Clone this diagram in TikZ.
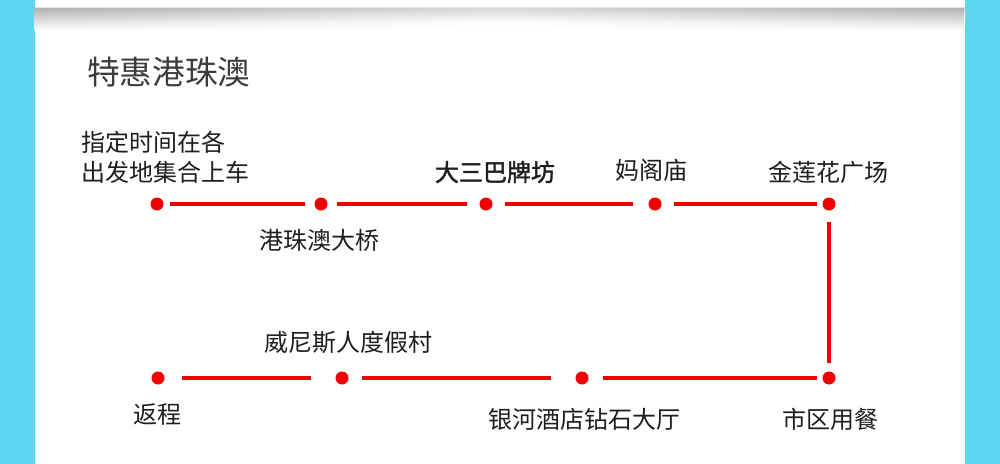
\documentclass[tikz,border=0pt]{standalone}
\usepackage{fontspec}
\newfontfamily\cjk{Noto Sans CJK SC}
\newfontfamily\cjkbold[FakeBold=1.6]{Noto Sans CJK SC}
\usetikzlibrary{shadings,fadings}
\definecolor{sidecyan}{RGB}{94,214,240}
\definecolor{routered}{RGB}{240,0,0}
\definecolor{titlegray}{RGB}{60,60,60}
\definecolor{labelgray}{RGB}{30,30,30}
\tikzfading[name=edgefade,left color=transparent!0,right color=transparent!0,middle color=transparent!100]
\tikzset{
  dot/.style={circle,fill=routered,draw=none,minimum size=9.75pt,inner sep=0pt},
  route/.style={draw=routered,line width=3.4pt,line cap=butt},
  stoplabel/.style={inner sep=0pt,text=labelgray,font=\cjk\fontsize{18}{22.5}\selectfont},
  titlelabel/.style={inner sep=0pt,text=titlegray,font=\cjk\fontsize{24.5}{28}\selectfont}
}
\begin{document}
\begin{tikzpicture}[x=0.75pt,y=-0.75pt]
\useasboundingbox (0,0) rectangle (1000,464);
% background
\fill[white] (0,0) rectangle (1000,464);
\fill[sidecyan] (0,0) rectangle (35,464);
\fill[sidecyan] (965,0) rectangle (1000,464);
\shade[top color=gray!30,bottom color=white] (35,8) rectangle (965,22);
\shade[top color=gray!60,bottom color=white,path fading=edgefade] (35,8) rectangle (965,30);
\draw[gray!25,line width=0.6pt] (35,7.5) -- (965,7.5);
% title
\node[titlelabel,anchor=west] (title) at (87,72) {特惠港珠澳};
% stops
\node[dot] (d1) at (157,204) {};
\node[dot] (d2) at (321,204) {};
\node[dot] (d3) at (486,204) {};
\node[dot] (d4) at (655,204) {};
\node[dot] (d5) at (829,204) {};
\node[dot] (d6) at (829,378) {};
\node[dot] (d7) at (582,378) {};
\node[dot] (d8) at (342,378) {};
\node[dot] (d9) at (158,378) {};
% route
\draw[route,shorten <=9.75pt,shorten >=12pt] (d1.center) -- (d2.center);
\draw[route,shorten <=12pt,shorten >=14.25pt] (d2.center) -- (d3.center);
\draw[route,shorten <=14.25pt,shorten >=16.5pt] (d3.center) -- (d4.center);
\draw[route,shorten <=14.25pt,shorten >=9pt] (d4.center) -- (d5.center);
\draw[route,shorten <=13.5pt,shorten >=11.25pt] (d5.center) -- (d6.center);
\draw[route,shorten <=9pt,shorten >=15.75pt] (d6.center) -- (d7.center);
\draw[route,shorten <=23.25pt,shorten >=15pt] (d7.center) -- (d8.center);
\draw[route,shorten <=23.25pt,shorten >=18pt] (d8.center) -- (d9.center);
% labels
\node[stoplabel,anchor=west,align=left] (l1) at (81,157) {指定时间在各\\出发地集合上车};
\node[stoplabel] (l2) at (319,240) {港珠澳大桥};
\node[stoplabel,font=\cjkbold\fontsize{18}{22.5}\selectfont] (l3) at (495,172) {大三巴牌坊};
\node[stoplabel] (l4) at (651,170) {妈阁庙};
\node[stoplabel] (l5) at (828.5,172) {金莲花广场};
\node[stoplabel] (l6) at (830,419) {市区用餐};
\node[stoplabel] (l7) at (584,419) {银河酒店钻石大厅};
\node[stoplabel] (l8) at (348,342) {威尼斯人度假村};
\node[stoplabel] (l9) at (157,415) {返程};
\end{tikzpicture}
\end{document}
